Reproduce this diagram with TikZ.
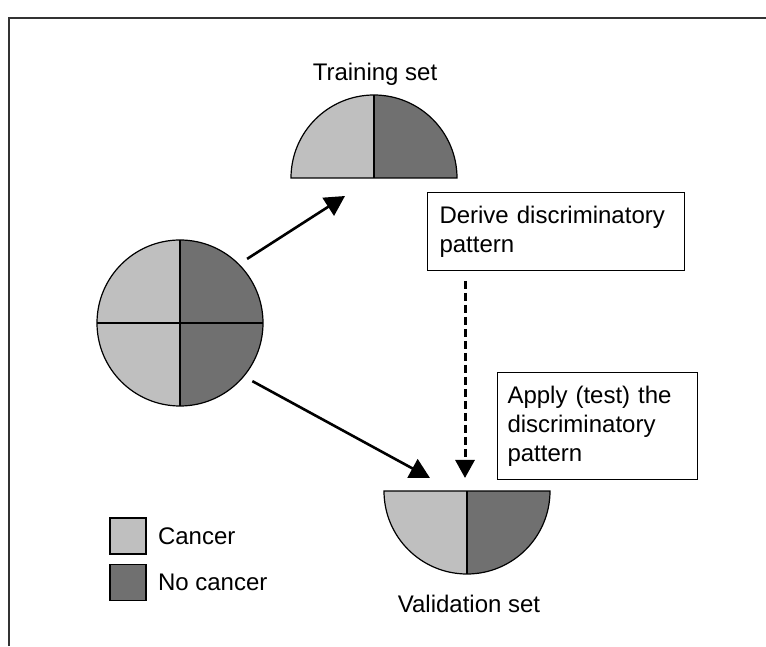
\documentclass[tikz,border=0pt]{standalone}
\usepackage{fontspec}
\setmainfont{Liberation Sans}
\usetikzlibrary{arrows.meta,positioning}
\definecolor{cancergray}{gray}{0.75}
\definecolor{healthygray}{gray}{0.44}

\begin{document}
\begin{tikzpicture}[x=1pt,y=1pt,thick,font=\fontsize{24}{29}\selectfont]
\tikzstyle{flow}=[line width=2.6pt,-{Triangle[length=20pt,width=21pt]},shorten <=10pt]
\tikzstyle{note}=[draw,line width=1pt,align=left,anchor=north west,inner xsep=12pt,minimum height=78pt]
\tikzstyle{swatch}=[draw,line width=1.2pt,minimum size=36pt,inner sep=0pt]
\tikzstyle{pie}=[draw,line width=1.2pt]
  \useasboundingbox (0,0) rectangle (766,646);
  % frame
  \draw[line width=1.6pt,black!80] (9,0) -- (9,628) -- (766,628);
  % whole sample
  \node[circle,minimum size=166pt,inner sep=0pt,outer sep=0pt] (pool) at (180,323) {};
  \fill[cancergray] (pool.center) -- (pool.north) arc (90:270:83) -- cycle;
  \fill[healthygray] (pool.center) -- (pool.north) arc (90:-90:83) -- cycle;
  \draw[pie] (pool.center) circle (83);
  \draw[pie] (pool.north) -- (pool.south) (pool.west) -- (pool.east);
  % training half
  \coordinate (train) at (374,468);
  \fill[cancergray] (train) -- ++(-83,0) arc (180:90:83) -- cycle;
  \fill[healthygray] (train) -- ++(83,0) arc (0:90:83) -- cycle;
  \draw[pie] (train) ++(-83,0) arc (180:0:83) -- cycle;
  \draw[pie] (train) -- ++(0,83);
  \node[anchor=base] (trainlbl) at (375,565) {Training set};
  % validation half
  \coordinate (valid) at (467,155);
  \fill[cancergray] (valid) -- ++(-83,0) arc (180:270:83) -- cycle;
  \fill[healthygray] (valid) -- ++(83,0) arc (0:-90:83) -- cycle;
  \draw[pie] (valid) ++(-83,0) arc (180:360:83) -- cycle;
  \draw[pie] (valid) -- ++(0,-83);
  \node[anchor=base] (validlbl) at (469,34) {Validation set};
  % boxes
  \node[note,text width=233pt] (derive) at (427,454) {Derive discriminatory\\pattern};
  \node[note,inner xsep=10pt,text width=180pt,minimum height=107pt] (apply) at (497,274) {Apply (test) the\\discriminatory\\pattern};
  % arrows
  \coordinate (traintip) at (345,450);
  \coordinate (validtip) at (430,168);
  \coordinate (dashtip) at (465,168);
  \draw[flow] (pool.45) -- (traintip);
  \draw[flow] (pool.-40) -- (validtip);
  \draw[flow,line width=3pt,dash pattern=on 8pt off 4pt,-{Triangle[length=18pt,width=19pt]}] (derive.south -| dashtip) -- (dashtip);
  % legend
  \node[swatch,fill=cancergray] (canc) at (128,110) {};
  \node[swatch,fill=healthygray,below=9pt of canc] (nocanc) {};
  \node[right=11pt of canc,inner sep=0pt] (canclbl) {Cancer};
  \node[right=11pt of nocanc,inner sep=0pt] (nocanclbl) {No cancer};
\end{tikzpicture}
\end{document}
